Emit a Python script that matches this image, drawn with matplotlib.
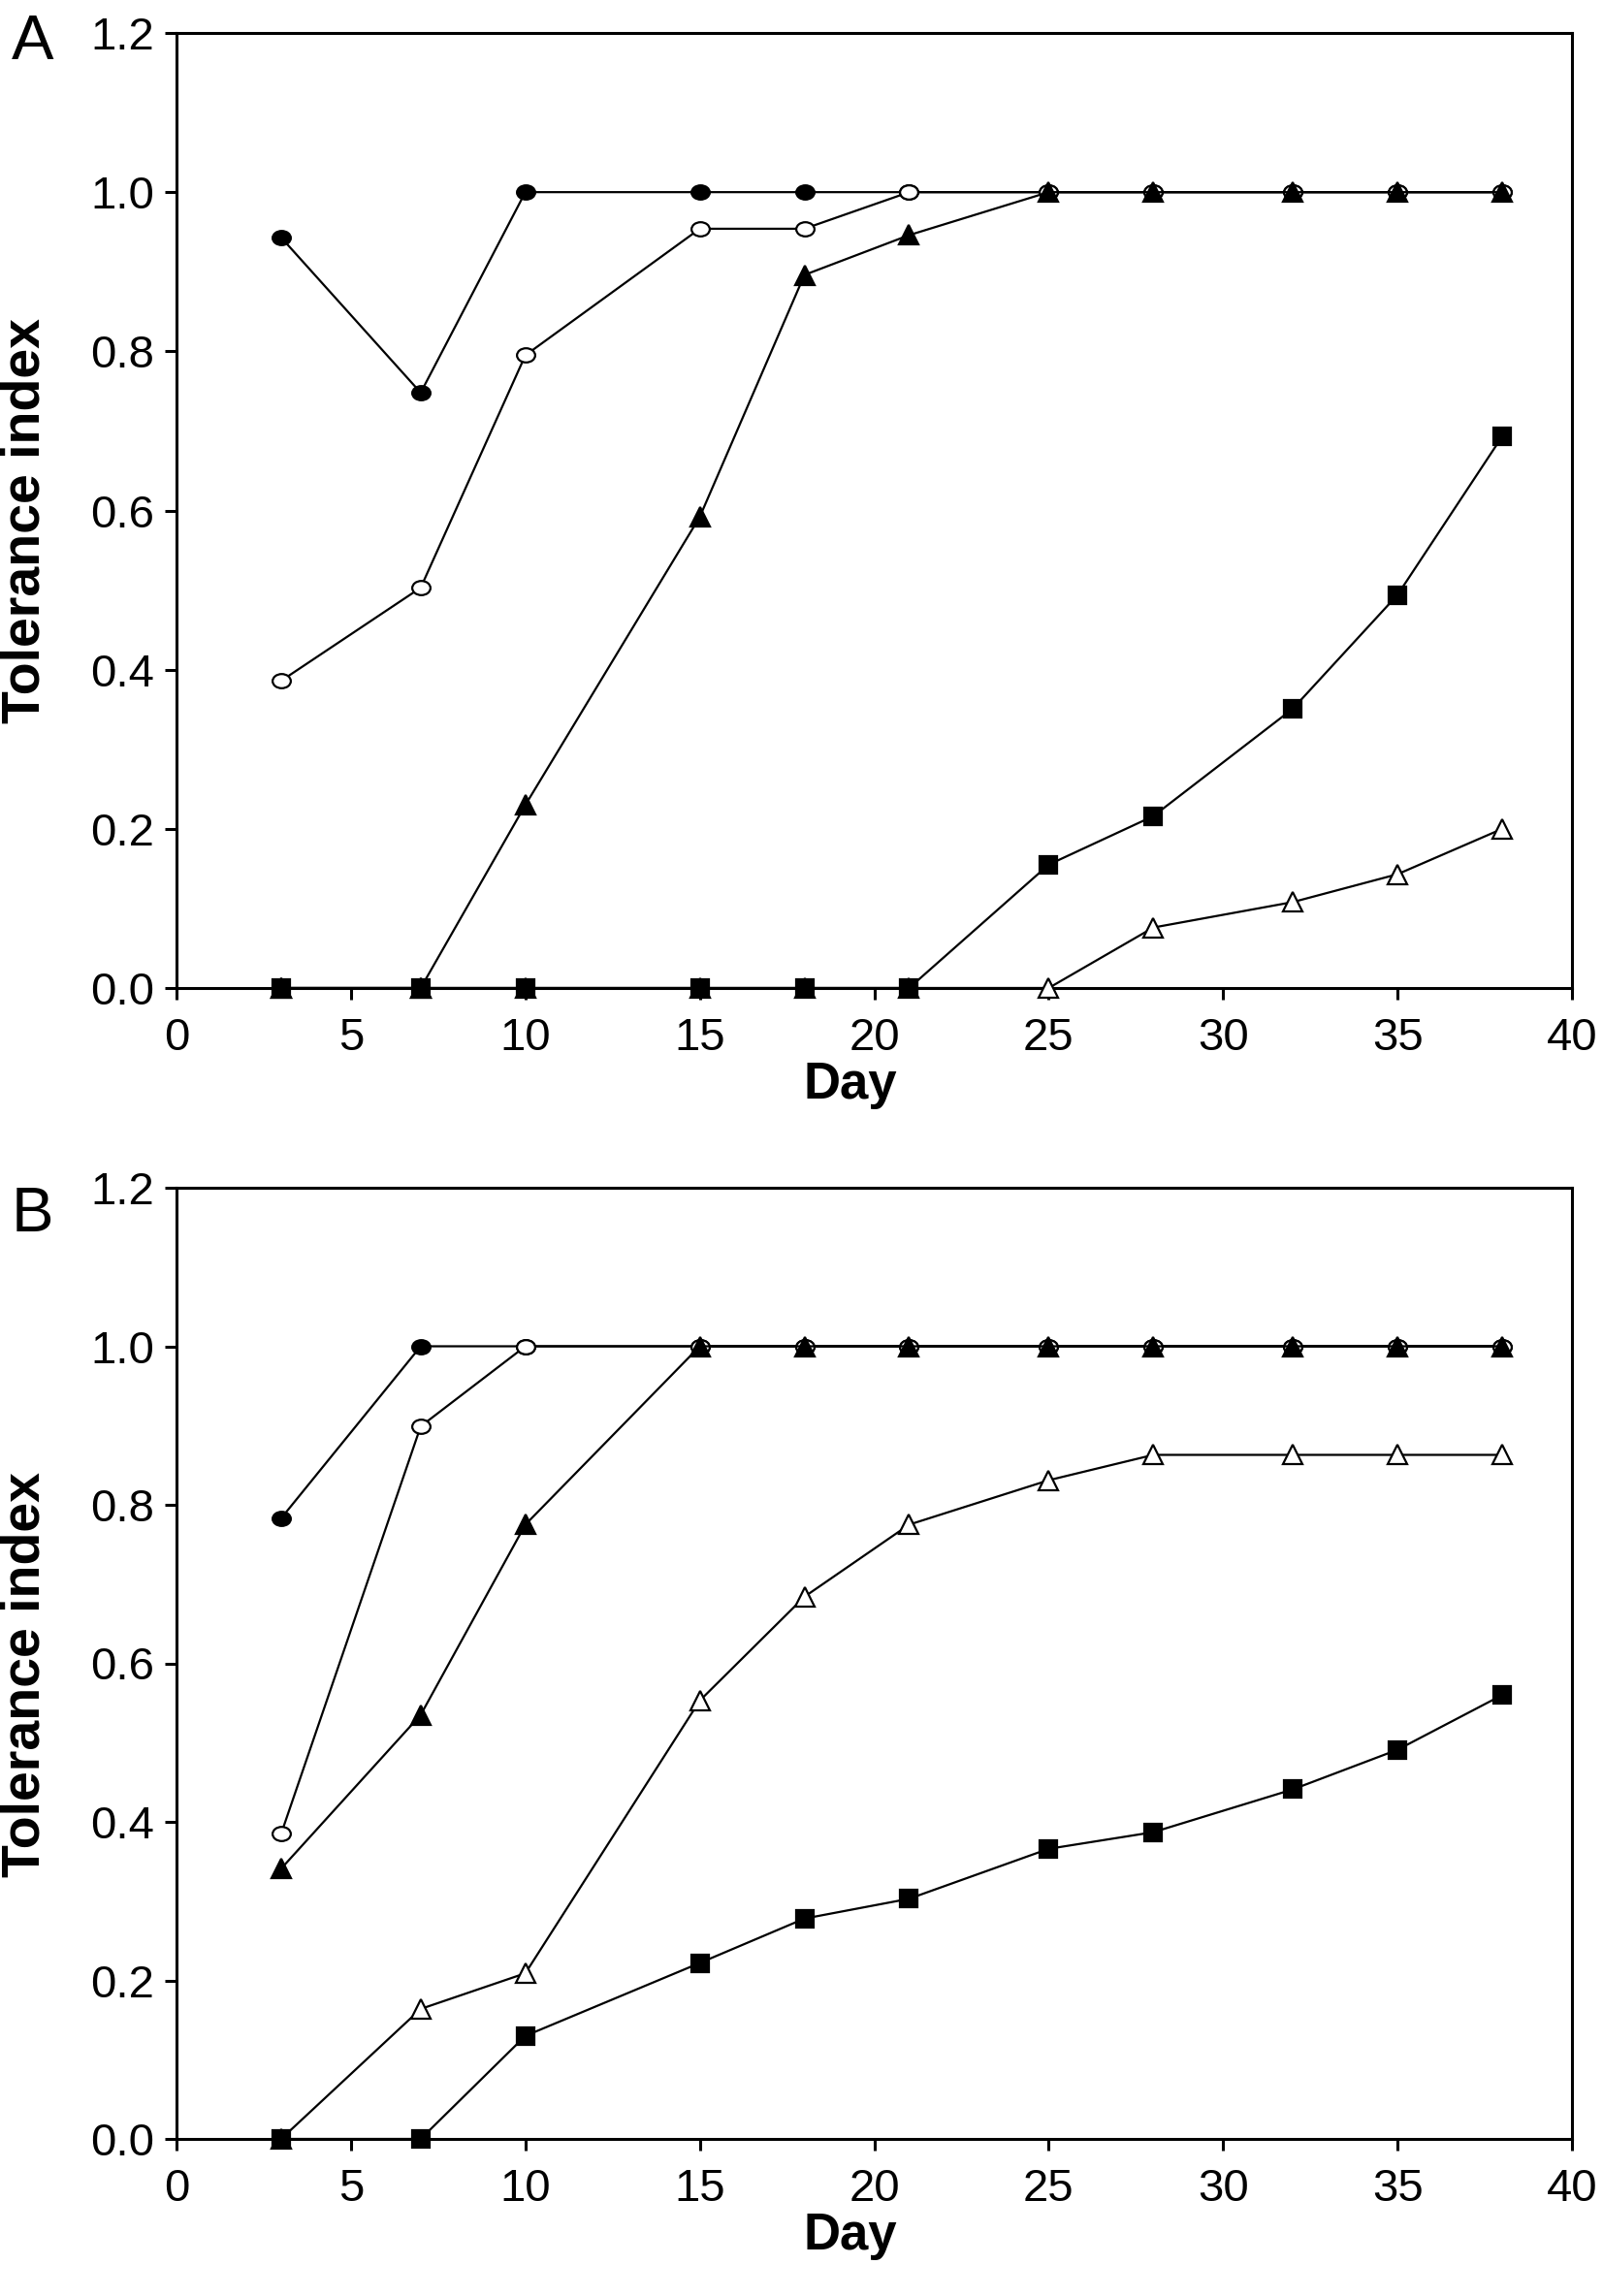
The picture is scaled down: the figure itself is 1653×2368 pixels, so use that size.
import matplotlib
matplotlib.use("Agg")
import matplotlib.pyplot as plt
from matplotlib.path import Path
from matplotlib.transforms import Affine2D

plt.rcParams['font.family'] = ['Liberation Sans', 'DejaVu Sans']

days = [3, 7, 10, 15, 18, 21, 25, 28, 32, 35, 38]

# panel A
a_filled_circle = [0.943, 0.748, 1.0, 1.0, 1.0, 1.0, 1.0, 1.0, 1.0, 1.0, 1.0]
a_open_circle = [0.386, 0.503, 0.795, 0.954, 0.954, 1.0, 1.0, 1.0, 1.0, 1.0, 1.0]
a_filled_tri = [0.0, 0.0, 0.23, 0.592, 0.896, 0.946, 1.0, 1.0, 1.0, 1.0, 1.0]
a_open_tri = [0.0, 0.0, 0.0, 0.0, 0.0, 0.0, 0.0, 0.076, 0.108, 0.143, 0.200]
a_filled_sq = [0.0, 0.0, 0.0, 0.0, 0.0, 0.0, 0.155, 0.216, 0.351, 0.494, 0.693]

# panel B
b_filled_circle = [0.783, 1.0, 1.0, 1.0, 1.0, 1.0, 1.0, 1.0, 1.0, 1.0, 1.0]
b_open_circle = [0.385, 0.899, 1.0, 1.0, 1.0, 1.0, 1.0, 1.0, 1.0, 1.0, 1.0]
b_filled_tri = [0.341, 0.535, 0.775, 1.0, 1.0, 1.0, 1.0, 1.0, 1.0, 1.0, 1.0]
b_open_tri = [0.0, 0.164, 0.209, 0.553, 0.684, 0.775, 0.831, 0.863, 0.863, 0.863, 0.863]
b_filled_sq = [0.0, 0.0, 0.130, 0.222, 0.278, 0.303, 0.366, 0.387, 0.441, 0.491, 0.560]

x_ticks = [0, 5, 10, 15, 20, 25, 30, 35, 40]
y_ticks = [0.0, 0.2, 0.4, 0.6, 0.8, 1.0, 1.2]

# slightly flattened circle like the original symbols
ellipse = Path.unit_circle().transformed(Affine2D().scale(1.0, 0.78))

W, H = 1653, 2368
fig = plt.figure(figsize=(W / 100, H / 100), dpi=100)

left = 182 / W
width = (1621 - 182) / W
panels = [
    ("A", (34, 1019), [a_filled_circle, a_open_circle, a_filled_tri, a_open_tri, a_filled_sq], 61),
    ("B", (1225, 2206), [b_filled_circle, b_open_circle, b_filled_tri, b_open_tri, b_filled_sq], 1270),
]

styles = [
    dict(marker=ellipse, markersize=13.5, mfc="black", mec="black"),
    dict(marker=ellipse, markersize=13.5, mfc="white", mec="black"),
    dict(marker="^", markersize=14.5, mfc="black", mec="black"),
    dict(marker="^", markersize=14.5, mfc="white", mec="black"),
    dict(marker="s", markersize=12.5, mfc="black", mec="black"),
]

for letter, (top_px, bot_px), series, letter_base in panels:
    ax = fig.add_axes([left, 1 - bot_px / H, width, (bot_px - top_px) / H])
    for i, (vals, st) in enumerate(zip(series, styles)):
        ax.plot(days, vals, color="black", lw=1.6, mew=1.6, zorder=3 + i,
                clip_on=False, **st)

    ax.set_xlim(0, 40)
    ax.set_ylim(0, 1.2)
    ax.set_xticks(x_ticks)
    ax.set_yticks(y_ticks)
    ax.set_xticklabels([str(t) for t in x_ticks])
    ax.set_yticklabels([f"{t:.1f}" for t in y_ticks])
    ax.tick_params(direction="out", length=8.6, width=2.2, labelsize=34)
    ax.tick_params(axis="x", pad=13)
    ax.tick_params(axis="y", pad=8)
    for sp in ax.spines.values():
        sp.set_linewidth(2.2)

    ax_h = bot_px - top_px
    fig.text(877 / W, 1 - (bot_px + 75) / H, "Day", fontsize=38,
             fontweight="bold", ha="center", va="top")
    fig.text(27 / W, 1 - (top_px + ax_h / 2 + 11) / H, "Tolerance index",
             fontsize=40, fontweight="bold", rotation=90, ha="center", va="center")
    fig.text(12 / W, 1 - letter_base / H, letter, fontsize=47,
             ha="left", va="baseline")

fig.savefig("out.png", dpi=100)
